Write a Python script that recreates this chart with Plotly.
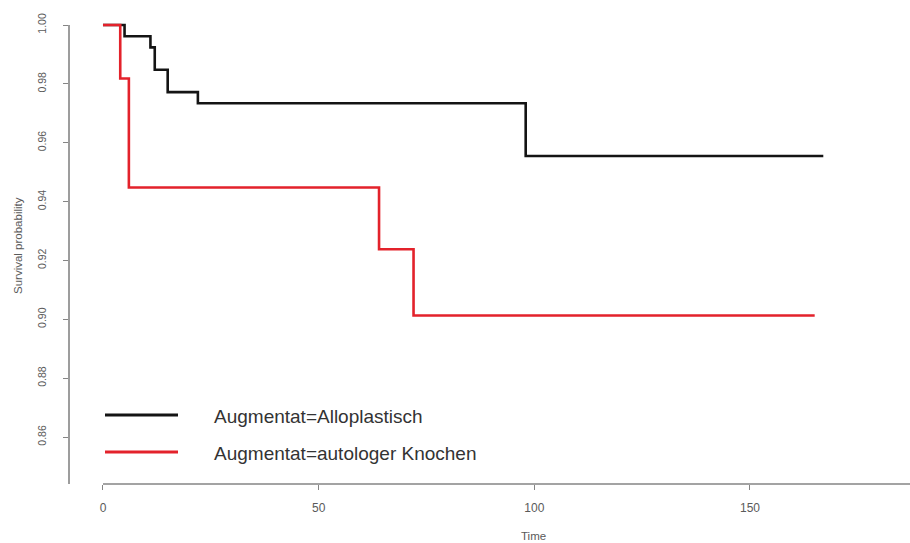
import plotly.graph_objects as go

# Kaplan-Meier step estimates per group: event times and survival after each step
allo_time = [0, 5, 11, 12, 15, 22, 98, 167]
allo_surv = [1.0, 0.9962, 0.9924, 0.9848, 0.9772, 0.9734, 0.9555, 0.9555]

auto_time = [0, 4, 6, 64, 72, 165]
auto_surv = [1.0, 0.9818, 0.9448, 0.9238, 0.9013, 0.9013]

group_names = ["Augmentat=Alloplastisch", "Augmentat=autologer Knochen"]
group_colors = ["#141414", "#e3222b"]

x_ticks = [0, 50, 100, 150]
y_ticks = [0.86, 0.88, 0.90, 0.92, 0.94, 0.96, 0.98, 1.00]

W, H = 910, 543
M_L, M_R, M_T, M_B = 69, 0, 20, 59
X_RANGE = [-7.88, 187.1]
Y_RANGE = [0.84404, 1.0017]

axis_grey = "#858585"
label_grey = "#5a5a5a"
base_family = "Liberation Sans, Arial, sans-serif"

plot_w = W - M_L - M_R
plot_h = H - M_T - M_B


def px_x(px):
    return (px - M_L) / plot_w


def px_y(py):
    return (H - M_B - py) / plot_h


def data_to_paper_x(v):
    return (v - X_RANGE[0]) / (X_RANGE[1] - X_RANGE[0])


def data_to_paper_y(v):
    return (v - Y_RANGE[0]) / (Y_RANGE[1] - Y_RANGE[0])


fig = go.Figure()

for t, s, name, col in [(allo_time, allo_surv, group_names[0], group_colors[0]),
                        (auto_time, auto_surv, group_names[1], group_colors[1])]:
    fig.add_trace(go.Scatter(
        x=t, y=s, mode="lines", name=name,
        line=dict(color=col, width=2.6, shape="hv"),
        showlegend=False, hoverinfo="x+y+name",
    ))

shapes = [
    # y axis line from the top tick down to the bottom of the plot region
    dict(type="line", xref="paper", yref="paper",
         x0=0, x1=0, y0=0, y1=data_to_paper_y(y_ticks[-1]),
         line=dict(color=axis_grey, width=1.6)),
    # x axis line starting at time zero
    dict(type="line", xref="paper", yref="paper",
         x0=data_to_paper_x(x_ticks[0]), x1=1, y0=0, y1=0,
         line=dict(color=axis_grey, width=1.6)),
]

annotations = [
    dict(text="Time", xref="paper", yref="paper", x=px_x(533), y=px_y(536),
         showarrow=False, xanchor="center", yanchor="middle",
         font=dict(family=base_family, size=11.5, color=label_grey)),
    dict(text="Survival probability", xref="paper", yref="paper", x=px_x(18), y=px_y(246),
         showarrow=False, xanchor="center", yanchor="middle", textangle=-90,
         font=dict(family=base_family, size=11.5, color=label_grey)),
]

# legend drawn as line samples with labels
legend_rows = [415, 452]
for row_y, name, col in zip(legend_rows, group_names, group_colors):
    shapes.append(dict(type="line", xref="paper", yref="paper",
                       x0=px_x(105), x1=px_x(178), y0=px_y(row_y), y1=px_y(row_y),
                       line=dict(color=col, width=2.8)))
    annotations.append(dict(text=name, xref="paper", yref="paper",
                            x=px_x(212), y=px_y(row_y + 1), showarrow=False,
                            xanchor="left", yanchor="middle",
                            font=dict(family=base_family, size=19, color="#333333")))

fig.update_layout(
    width=W, height=H,
    margin=dict(l=M_L, r=M_R, t=M_T, b=M_B),
    paper_bgcolor="white", plot_bgcolor="white",
    shapes=shapes, annotations=annotations,
    showlegend=False,
    xaxis=dict(range=X_RANGE, tickvals=x_ticks, ticktext=[str(v) for v in x_ticks],
               ticks="outside", ticklen=5, tickwidth=1.2, tickcolor=axis_grey,
               showline=False, showgrid=False, zeroline=False,
               tickfont=dict(family=base_family, size=12, color=label_grey),
               ticklabelstandoff=8),
    yaxis=dict(range=Y_RANGE, tickvals=y_ticks, ticktext=[f"{v:.2f}" for v in y_ticks],
               ticks="outside", ticklen=5, tickwidth=1.2, tickcolor=axis_grey,
               showline=False, showgrid=False, zeroline=False, tickangle=-90,
               tickfont=dict(family=base_family, size=10.5, color=label_grey),
               ticklabelstandoff=13),
)

fig.write_html("out.html")
